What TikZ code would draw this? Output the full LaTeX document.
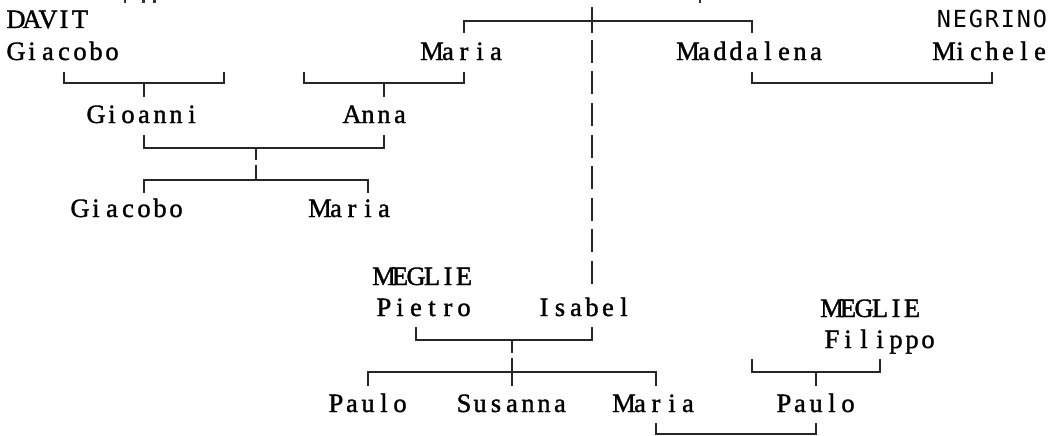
\documentclass[tikz,border=0pt]{standalone}
\usepackage{fontspec}
\newfontfamily\serifcell[FakeBold=1.3]{Liberation Serif}
\newfontfamily\sanscell{DejaVu Sans Mono}
\makeatletter
\newcommand\cells[1]{\cells@#1\relax}
\def\cells@#1{\ifx\relax#1\else\hbox to 16pt{\hss#1\hss}\expandafter\cells@\fi}
\makeatother
\tikzset{
  person/.style={anchor=base west, inner sep=0pt, outer sep=0pt,
    font=\fontsize{26.5}{26.5}\serifcell, text=black},
  surname/.style={person, font=\fontsize{23.5}{23.5}\sanscell},
  link/.style={line width=1.6pt, draw=black!85},
  frag/.style={fill=black!80, draw=none}
}
\begin{document}
\begin{tikzpicture}[x=1pt, y=-1pt]
\useasboundingbox (0,0) rectangle (1050,436);
% cropped fragments at the top edge
\fill[frag] (124,0) rectangle (126,3);
\fill[frag] (142,0) rectangle (145,3);
\fill[frag] (153,0) rectangle (156,3);
\fill[frag] (699,0) rectangle (701,3);
% names
\node[person] (davit) at (8,28) {\cells{DAVIT}};
\node[person] (giacoboA) at (8,60) {\cells{Giacobo}};
\node[person] (mariaA) at (424,60) {\cells{Maria}};
\node[person] (madd) at (680,60) {\cells{Maddalena}};
\node[surname] (negrino) at (936,28) {\cells{NEGRINO}};
\node[person] (michele) at (936,60) {\cells{Michele}};
\node[person] (gioanni) at (88,123) {\cells{Gioanni}};
\node[person] (anna) at (344,123) {\cells{Anna}};
\node[person] (giacoboB) at (72,217) {\cells{Giacobo}};
\node[person] (mariaB) at (312,217) {\cells{Maria}};
\node[person] (megliA) at (376,285) {\cells{MEGLIE}};
\node[person] (pietro) at (376,316) {\cells{Pietro}};
\node[person] (isabel) at (536,316) {\cells{Isabel}};
\node[person] (megliB) at (824,317) {\cells{MEGLIE}};
\node[person] (filippo) at (824,348) {\cells{Filippo}};
\node[person] (pauloA) at (328,412) {\cells{Paulo}};
\node[person] (susanna) at (456,412) {\cells{Susanna}};
\node[person] (mariaC) at (616,412) {\cells{Maria}};
\node[person] (pauloB) at (776,412) {\cells{Paulo}};
% junction coordinates
\coordinate (topL) at (464,21); \coordinate (topR) at (752,21);
\coordinate (topX) at (592,21);
% top family: Maria and Maddalena, with Isabel below
\draw[link] (464,33) -- (topL) -- (topR) -- (752,33);
\draw[link] (592,7) -- (592,33);
\draw[link, dash pattern=on 23pt off 8.5pt] (592,40) -- (592,283.5);
% Giacobo (DAVIT) family
\draw[link] (64,72) -- (64,83) -- (224,83) -- (224,72);
\draw[link] (144,83) -- (144,97);
% Maria family
\draw[link] (304,72) -- (304,83) -- (464,83) -- (464,72);
\draw[link] (384,83) -- (384,97);
% Maddalena and Michele
\draw[link] (752,72) -- (752,83) -- (992,83) -- (992,72);
% Gioanni and Anna
\draw[link] (144,135) -- (144,148) -- (384,148) -- (384,135);
\draw[link] (256,148) -- (256,160);
\draw[link] (256,165) -- (256,180);
\draw[link] (144,193) -- (144,180) -- (368,180) -- (368,193);
% Pietro and Isabel
\draw[link] (416,327) -- (416,340) -- (592,340) -- (592,327);
\draw[link] (512,340) -- (512,353);
\draw[link] (512,358) -- (512,386);
\draw[link] (368,386) -- (368,372) -- (656,372) -- (656,386);
% Filippo
\draw[link] (752,359) -- (752,372) -- (880,372) -- (880,359);
\draw[link] (816,372) -- (816,386);
% Maria and Paulo
\draw[link] (656,423) -- (656,434) -- (816,434) -- (816,423);
\end{tikzpicture}
\end{document}
